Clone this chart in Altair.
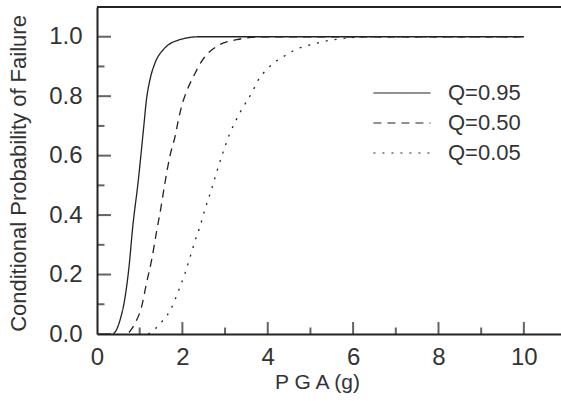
import altair as alt
import pandas as pd

# ---- data ----
series_names = ["Q=0.95", "Q=0.50", "Q=0.05"]

q95_x = [0.38, 0.46, 0.54, 0.66, 0.76, 0.83, 0.97, 1.09, 1.16, 1.24, 1.36, 1.55, 1.94, 2.4, 10.0]
q95_y = [0.0, 0.015, 0.047, 0.126, 0.24, 0.35, 0.52, 0.69, 0.79, 0.855, 0.912, 0.956, 0.99, 1.0, 1.0]

q50_x = [0.75, 0.89, 1.045, 1.16, 1.28, 1.41, 1.475, 1.59, 1.71, 1.83, 1.90, 1.98, 2.11, 2.26, 2.45, 2.80, 3.27, 3.9, 10.0]
q50_y = [0.005, 0.036, 0.092, 0.171, 0.249, 0.356, 0.406, 0.507, 0.60, 0.665, 0.715, 0.765, 0.82, 0.866, 0.917, 0.967, 0.99, 1.0, 1.0]

q05_x = [1.2, 1.36, 1.55, 1.71, 1.90, 2.06, 2.19, 2.33, 2.40, 2.53, 2.67, 2.80, 2.94, 3.10, 3.35, 3.64, 3.78, 3.97, 4.17, 4.40, 4.64, 5.07, 5.54, 6.5, 10.0]
q05_y = [0.0, 0.017, 0.047, 0.078, 0.142, 0.204, 0.263, 0.328, 0.356, 0.42, 0.481, 0.543, 0.606, 0.67, 0.745, 0.815, 0.855, 0.889, 0.915, 0.936, 0.956, 0.975, 0.99, 1.0, 1.0]

x_major = [0, 2, 4, 6, 8, 10]
x_minor = [1, 3, 5, 7, 9]
y_major = [0.0, 0.2, 0.4, 0.6, 0.8, 1.0]
y_minor = [0.1, 0.3, 0.5, 0.7, 0.9]

x_domain = [0, 10.87]
y_domain = [0, 1.1]

FONT = "Liberation Sans"
INK = "#222222"
TXT = "#333333"

rows = []
for name, xs, ys in zip(series_names, [q95_x, q50_x, q05_x], [q95_y, q50_y, q05_y]):
    for i, (a, b) in enumerate(zip(xs, ys)):
        rows.append({"series": name, "pga": a, "p": b, "order": i})
df = pd.DataFrame(rows)

xscale = alt.Scale(domain=x_domain, nice=False, zero=False)
yscale = alt.Scale(domain=y_domain, nice=False, zero=False)

xaxis = alt.Axis(values=x_major, ticks=False, grid=False, domainColor=INK, domainWidth=2,
                 labelFont=FONT, labelFontSize=24, labelColor=TXT, labelPadding=11,
                 labelFlush=False, title="P G A (g)", titleFont=FONT, titleFontSize=21,
                 titleFontWeight="normal", titleColor=TXT, titleX=220, titleY=54,
                 titleBaseline="alphabetic")
yaxis = alt.Axis(values=y_major, format=".1f", ticks=False, grid=False, domainColor=INK,
                 domainWidth=2, labelFont=FONT, labelFontSize=24, labelColor=TXT,
                 labelPadding=15, labelFlush=False, title="Conditional Probability of Failure",
                 titleFont=FONT, titleFontSize=22, titleFontWeight="normal", titleColor=TXT,
                 titleX=-72, titleY=166, titleBaseline="alphabetic")

lines = alt.Chart(df).mark_line(interpolate="monotone", strokeWidth=1.3, color=INK).encode(
    x=alt.X("pga:Q", scale=xscale, axis=xaxis),
    y=alt.Y("p:Q", scale=yscale, axis=yaxis),
    order="order:Q",
    strokeDash=alt.StrokeDash(
        "series:N",
        scale=alt.Scale(domain=series_names, range=[[1, 0], [8, 6], [2, 7]]),
        legend=alt.Legend(title=None, orient="none", legendX=294, legendY=75,
                          symbolType="M-4,0H4", symbolSize=204, symbolStrokeWidth=1.2,
                          symbolStrokeColor=INK, labelFont=FONT, labelFontSize=22,
                          labelColor=TXT, labelOffset=35, rowPadding=8),
    ),
)

xmaj_df = pd.DataFrame({"v": x_major})
xmin_df = pd.DataFrame({"v": x_minor})
ymaj_df = pd.DataFrame({"v": y_major})
ymin_df = pd.DataFrame({"v": y_minor})

xt_major = alt.Chart(xmaj_df).mark_tick(orient="vertical", size=24, thickness=2, color=INK, clip=True).encode(
    x=alt.X("v:Q", scale=xscale), y=alt.datum(0))
xt_minor = alt.Chart(xmin_df).mark_tick(orient="vertical", size=13, thickness=2, color=INK, clip=True).encode(
    x=alt.X("v:Q", scale=xscale), y=alt.datum(0))
yt_major = alt.Chart(ymaj_df).mark_tick(orient="horizontal", size=28, thickness=2, color=INK, clip=True).encode(
    y=alt.Y("v:Q", scale=yscale), x=alt.datum(0))
yt_minor = alt.Chart(ymin_df).mark_tick(orient="horizontal", size=15, thickness=2, color=INK, clip=True).encode(
    y=alt.Y("v:Q", scale=yscale), x=alt.datum(0))

top_rule = alt.Chart(pd.DataFrame({"v": [y_domain[1]]})).mark_rule(color=INK, strokeWidth=2).encode(
    y=alt.Y("v:Q", scale=yscale))

chart = alt.layer(lines, xt_major, xt_minor, yt_major, yt_minor, top_rule).properties(
    width=464, height=327,
    autosize=alt.AutoSizeParams(type="none"),
    padding={"left": 97, "top": 7, "right": 0, "bottom": 67},
    background="white",
).configure_view(stroke=None)

chart.save("out.html", embed_options={"renderer": "svg", "actions": False})
